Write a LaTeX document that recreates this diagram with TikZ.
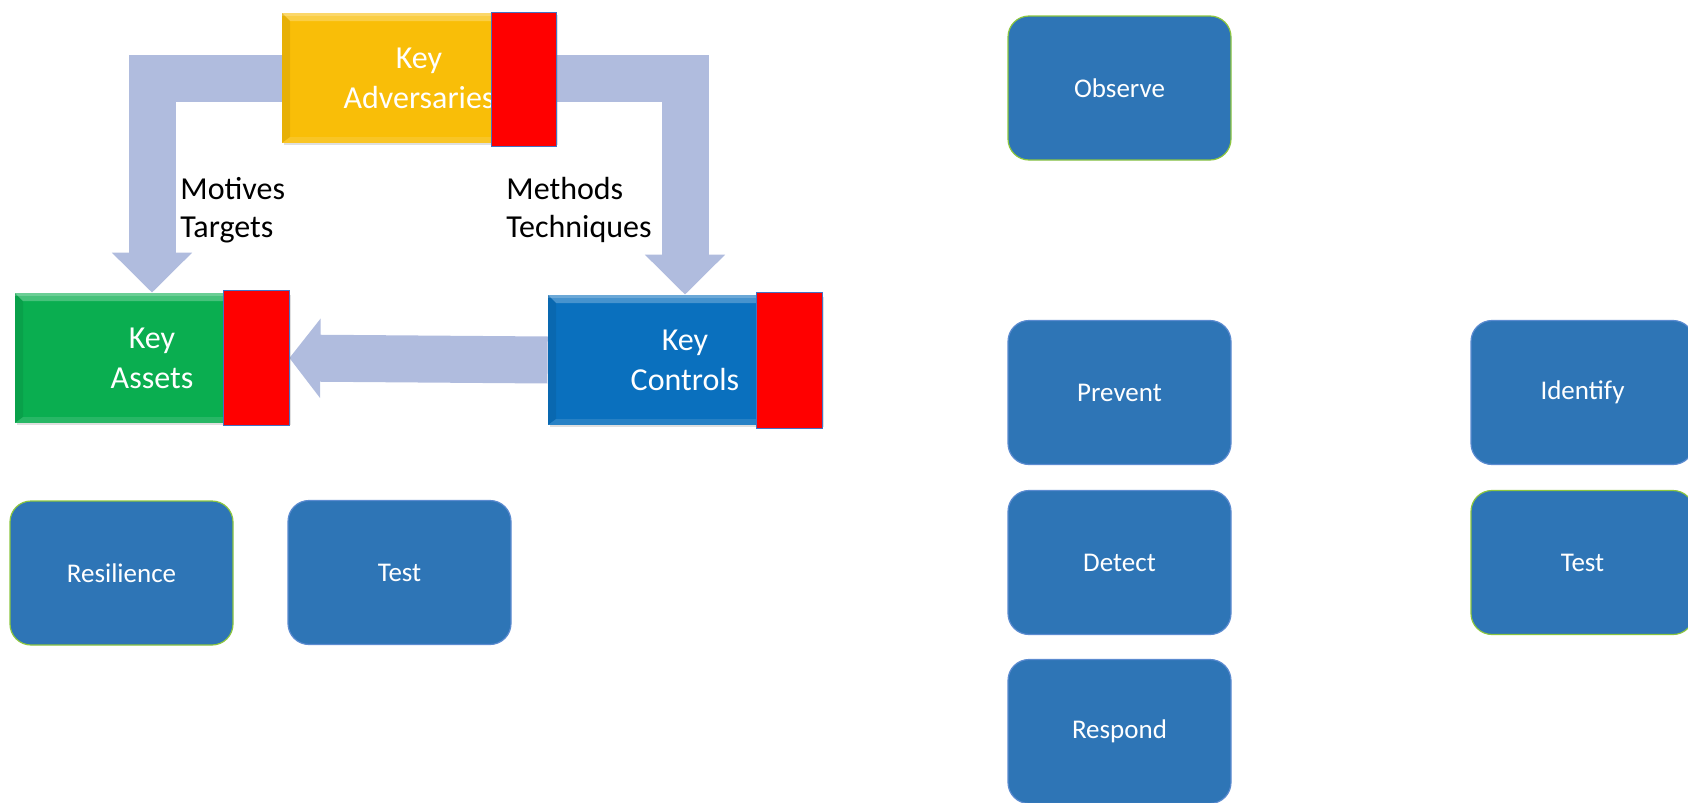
\documentclass[tikz,border=0pt]{standalone}
\usepackage{fontspec}
\setmainfont{Carlito}
\usetikzlibrary{calc,arrows.meta,positioning,backgrounds,shadows}
\definecolor{AdvGold}{HTML}{F9BE08}
\definecolor{AssetGreen}{HTML}{0AAE50}
\definecolor{CtrlBlue}{HTML}{0A70BE}
\definecolor{TabRed}{HTML}{FF0000}
\definecolor{TabEdge}{HTML}{4472C4}
\definecolor{FlowBand}{HTML}{B0BCDE}
\definecolor{StepBlue}{HTML}{2E75B6}
\definecolor{StepEdge}{HTML}{5B8BD0}
\definecolor{StepGreen}{HTML}{8CC63F}

\tikzset{
  keybox/.style={minimum width=137pt, minimum height=65pt, inner sep=0pt,
    text=white, align=center, font=\fontsize{16}{20}\selectfont, fill=#1,
    drop shadow={opacity=0.25, shadow xshift=1pt, shadow yshift=-1pt},
    path picture={
      % bevel: light top edge, slightly darker left edge
      \fill[white, opacity=0.25] (path picture bounding box.north west)
        -- (path picture bounding box.north east)
        -- ([shift={(-4pt,-4pt)}]path picture bounding box.north east)
        -- ([shift={(4pt,-4pt)}]path picture bounding box.north west) -- cycle;
      \fill[white, opacity=0.2] (path picture bounding box.north west)
        rectangle ([yshift=-1.5pt]path picture bounding box.north east);
      \fill[black, opacity=0.07] (path picture bounding box.north west)
        -- ([shift={(4pt,-4pt)}]path picture bounding box.north west)
        -- ([shift={(4pt,3pt)}]path picture bounding box.south west)
        -- (path picture bounding box.south west) -- cycle;
      \fill[white, opacity=0.12] (path picture bounding box.south west)
        -- ([shift={(4pt,3pt)}]path picture bounding box.south west)
        -- ([shift={(-4pt,3pt)}]path picture bounding box.south east)
        -- (path picture bounding box.south east) -- cycle;
    }},
  redtab/.style={fill=TabRed, draw=TabEdge, line width=0.6pt},
  stepbox/.style={rounded corners=10.5pt, minimum width=111.5pt,
    minimum height=72pt, fill=StepBlue, draw=StepEdge, line width=0.6pt,
    text=white, font=\fontsize{13.5}{16}\selectfont},
  greenedge/.style={draw=StepGreen},
  band/.style={draw=FlowBand, line width=23.5pt,
    -{Triangle[width=39pt,length=20pt]}},
  note/.style={font=\fontsize{16}{19}\selectfont, align=left, anchor=west,
    inner sep=0pt}
}

\begin{document}
\begin{tikzpicture}[x=0.5pt, y=-0.5pt]
  \useasboundingbox (0,0) rectangle (1688,803);
  \clip (0,0) rectangle (1688,803);

  % key elements
  \node[keybox=AdvGold] (adv) at (419,78) {Key\\Adversaries};
  \node[keybox=AssetGreen] (assets) at (152,358) {Key\\Assets};
  \node[keybox=CtrlBlue] (ctrl) at (685,360) {Key\\Controls};
  \draw[redtab] ($(adv.north east)+(-65,0)$) rectangle ($(adv.south east)+(0,3)$);
  \draw[redtab] ($(assets.north east)+(-66,-2)$) rectangle ($(assets.south east)+(0,2)$);
  \draw[redtab] ($(ctrl.north east)+(-66,-2)$) rectangle ($(ctrl.south east)+(0,3)$);

  % block arrows behind the boxes
  \begin{scope}[on background layer]
    \draw[band] (adv.west) -| (assets.north);
    \draw[band] (adv.east) -| (ctrl.north);
    \draw[band, -{Triangle[width=39pt,length=15.5pt]}] (ctrl.west) -- (assets.east);
  \end{scope}

  \node[note] (motives) at (180,210) {Motives\\Targets};
  \node[note] (methods) at (506,210) {Methods\\Techniques};

  % activity boxes
  \node[stepbox, greenedge] (resil) at (121.5,573) {Resilience};
  \node[stepbox] (testA) at (399.5,572.5) {Test};
  \node[stepbox, greenedge] (observe) at (1119.5,88) {Observe};
  \node[stepbox] (prevent) at (1119.5,392.5) {Prevent};
  \node[stepbox] (detect) at (1119.5,562.5) {Detect};
  \node[stepbox] (respond) at (1119.5,731.5) {Respond};
  \node[stepbox] (identify) at (1582.5,392.5) {Identify};
  \node[stepbox, greenedge] (testB) at (1582.5,562.5) {Test};
\end{tikzpicture}
\end{document}
